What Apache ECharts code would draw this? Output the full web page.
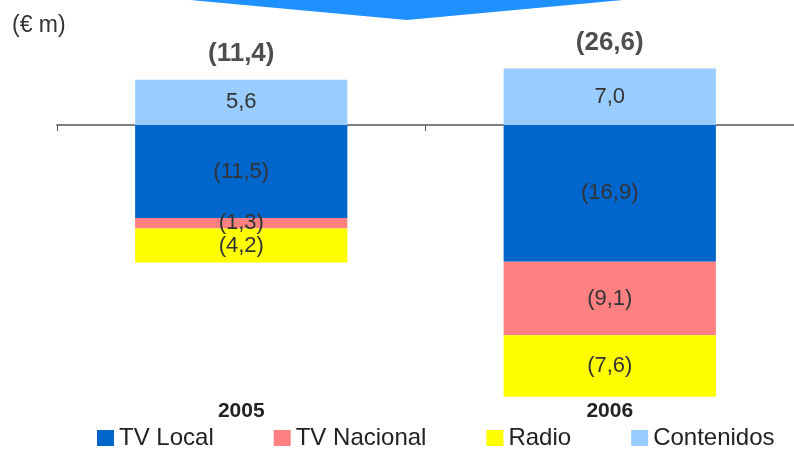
<!DOCTYPE html>
<html>
<head>
<meta charset="utf-8">
<script src="https://cdn.jsdelivr.net/npm/echarts@6/dist/echarts.min.js"></script>
<style>
  html, body { margin: 0; padding: 0; background: #fff; }
  #chart { width: 794px; height: 449px; }
</style>
</head>
<body>
<div id="chart"></div>
<script>
  // data (€ m)
  const years = ['2005', '2006']
  const tvLocal = [-11.5, -16.9]
  const tvNacional = [-1.3, -9.1]
  const radio = [-4.2, -7.6]
  const contenidos = [5.6, 7.0]
  const totals = ['(11,4)', '(26,6)']

  const fmt = v => {
    const s = Math.abs(v).toFixed(1).replace('.', ',')
    return v < 0 ? '(' + s + ')' : s
  }

  const font = '"Liberation Sans", Arial, sans-serif'
  const valueLabel = {
    show: true,
    position: 'inside',
    fontFamily: font,
    fontSize: 22,
    color: '#333',
    formatter: p => fmt(p.value)
  }

  const mychart = echarts.init(document.getElementById('chart'))
  mychart.setOption({
    animation: false,
    title: {
      text: '(€ m)',
      left: 7,
      top: 9,
      textStyle: { fontFamily: font, fontSize: 23, fontWeight: 'normal', color: '#333' }
    },
    graphic: [
      {
        type: 'polygon',
        shape: { points: [[190, 0], [623, 0], [407, 20]] },
        style: { fill: '#1E90FF' }
      }
    ],
    legend: {
      data: ['TV Local', 'TV Nacional', 'Radio', 'Contenidos'],
      left: 92,
      bottom: -6,
      itemWidth: 17,
      itemHeight: 16,
      itemGap: 60,
      icon: 'rect',
      textStyle: { fontFamily: font, fontSize: 24, color: '#222' }
    },
    grid: { left: 57, right: -3, top: 28, bottom: 49 },
    xAxis: [
      {
        type: 'category',
        data: years,
        axisLine: { show: true, onZero: true, lineStyle: { color: '#808080', width: 2 } },
        axisTick: { show: true, length: 6, lineStyle: { color: '#555' } },
        axisLabel: { show: false }
      },
      {
        type: 'category',
        data: years,
        position: 'bottom',
        axisLine: { show: false, onZero: false },
        axisTick: { show: false },
        axisLabel: { margin: 1, fontFamily: font, fontSize: 21, fontWeight: 'bold', color: '#222' }
      }
    ],
    yAxis: {
      type: 'value',
      min: -34,
      max: 12,
      show: false
    },
    series: [
      { name: 'TV Local', type: 'bar', stack: 'Total', barWidth: '57.6%', itemStyle: { color: '#0066CC' }, label: valueLabel, data: tvLocal },
      { name: 'TV Nacional', type: 'bar', stack: 'Total', itemStyle: { color: '#FF8080' }, label: valueLabel, data: tvNacional },
      { name: 'Radio', type: 'bar', stack: 'Total', itemStyle: { color: '#FFFF00' }, label: valueLabel, data: radio },
      { name: 'Contenidos', type: 'bar', stack: 'Total', itemStyle: { color: '#99CCFF' }, label: valueLabel, data: contenidos },
      {
        name: 'total',
        type: 'scatter',
        symbolSize: 0,
        silent: true,
        data: contenidos,
        label: {
          show: true,
          position: 'top',
          distance: 13,
          fontFamily: font,
          fontSize: 26,
          fontWeight: 'bold',
          color: '#222',
          formatter: p => totals[p.dataIndex]
        }
      }
    ]
  })
</script>
</body>
</html>
